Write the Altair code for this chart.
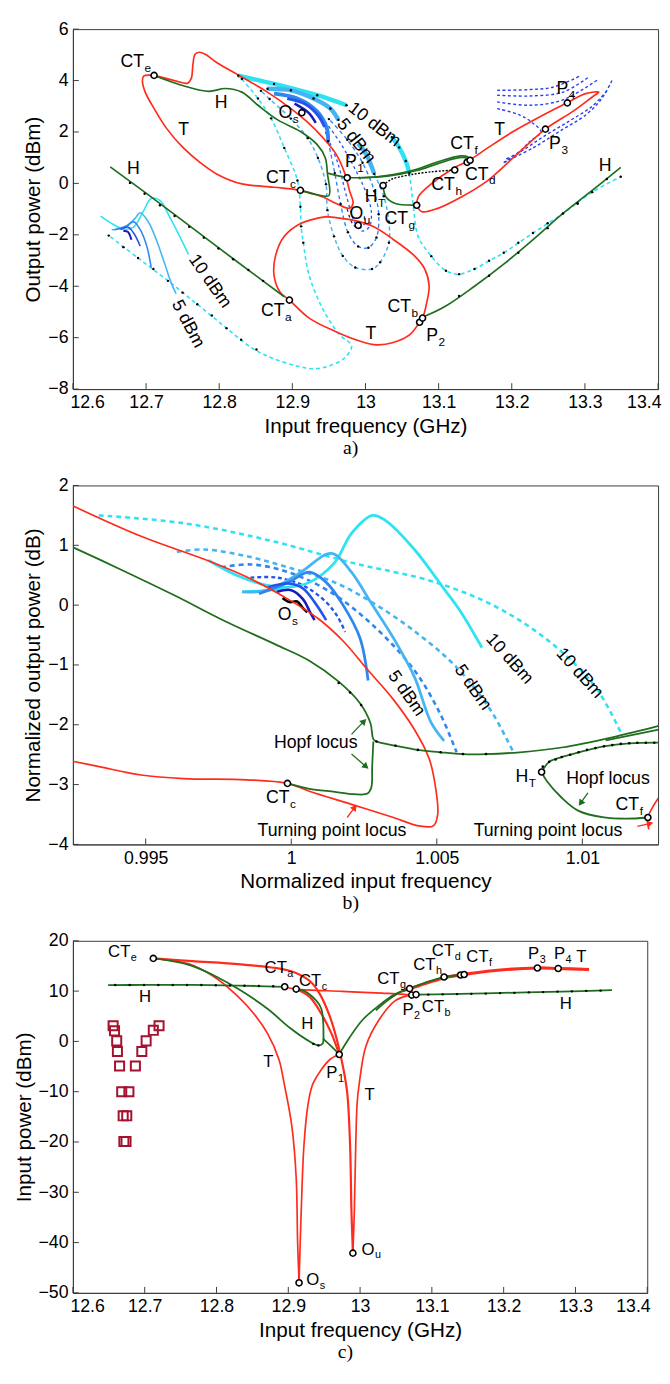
import math
import altair as alt
import pandas as pd

# ---------------- colours / fonts ----------------
RED = "#ff2b1c"
GREEN = "#1e6e1e"
CYAN = "#2de3f3"
LBLUE = "#45b5f2"
MBLUE = "#2f87ee"
DBLUE = "#2455e8"
NAVY = "#1a1ab8"
PBLUE = "#2a3cf0"
SQC = "#a3122e"
AXC = "#3a3a3a"
FONT = "Liberation Sans"
SERIF = "Liberation Serif"

# =============== PANEL A data (input freq GHz, output power dBm) ===============
A_XTICKS = [12.6, 12.7, 12.8, 12.9, 13.0, 13.1, 13.2, 13.3, 13.4]
A_YTICKS = [-8, -6, -4, -2, 0, 2, 4, 6]

RED_A1 = [(12.711, 4.20), (12.740, 3.99), (12.757, 3.90), (12.762, 4.10), (12.764, 4.60), (12.767, 5.02),
          (12.773, 5.10), (12.781, 5.02), (12.797, 4.69), (12.826, 4.22), (12.866, 3.55), (12.898, 2.91),
          (12.920, 2.40), (12.942, 1.77), (12.960, 1.13), (12.972, 0.37), (12.978, -0.27), (12.983, -0.78),
          (12.978, -0.97), (12.960, -0.78), (12.942, -0.53), (12.911, -0.27), (12.875, -0.15), (12.831, -0.02),
          (12.797, 0.36), (12.774, 0.81), (12.751, 1.38), (12.728, 2.14), (12.711, 2.91), (12.699, 3.54),
          (12.695, 3.99), (12.697, 4.18), (12.711, 4.20)]
RED_A2 = [(12.946, -1.29), (12.912, -1.55), (12.889, -2.06), (12.877, -2.82), (12.875, -3.58), (12.883, -4.22),
          (12.896, -4.54), (12.923, -5.24), (12.958, -5.75), (12.992, -6.13), (13.015, -6.28), (13.038, -6.19),
          (13.061, -5.87), (13.074, -5.40), (13.078, -5.24), (13.084, -4.60), (13.087, -3.97), (13.081, -3.33),
          (13.067, -2.82), (13.038, -2.18), (13.010, -1.67), (12.981, -1.42), (12.946, -1.29)]
RED_A3 = [(13.070, -0.85), (13.077, -1.10), (13.099, -0.97), (13.131, -0.53), (13.167, 0.11), (13.202, 1.00),
          (13.246, 2.11), (13.283, 2.79), (13.310, 3.36), (13.319, 3.55), (13.301, 3.49), (13.275, 3.13),
          (13.243, 2.66), (13.202, 2.02), (13.167, 1.38), (13.142, 0.90), (13.122, 0.62), (13.090, -0.02),
          (13.072, -0.53), (13.070, -0.85)]

GREEN_A1 = [(12.651, 0.64), (12.700, -0.38), (12.760, -1.66), (12.820, -2.95), (12.889, -4.41)]
GREEN_A2 = [(13.081, -5.17), (13.108, -4.80), (13.149, -4.00), (13.189, -3.14), (13.229, -2.19),
            (13.270, -1.17), (13.310, -0.27), (13.349, 0.62)]
GREEN_A3 = [(12.711, 4.20), (12.751, 3.80), (12.786, 3.58), (12.808, 3.69), (12.831, 3.55), (12.853, 3.04),
            (12.880, 2.47), (12.911, 2.02), (12.934, 1.51), (12.945, 1.00), (12.948, 0.37), (12.950, -0.47),
            (12.934, -0.44), (12.911, -0.27)]
GREEN_A4 = [(12.948, 0.40), (12.974, 0.24), (13.010, 0.24), (13.040, 0.35), (13.070, 0.55), (13.100, 0.85),
            (13.130, 1.07), (13.140, 1.03), (13.143, 0.90)]
GREEN_A4B = [(12.990, 0.22), (13.030, 0.28), (13.070, 0.50), (13.100, 0.78), (13.128, 1.00), (13.139, 0.98),
             (13.143, 0.90)]
GREEN_A5 = [(13.024, -0.08), (13.028, -0.53), (13.041, -0.78), (13.068, -0.85), (13.070, -0.85)]
BLACK_A = [(13.024, -0.08), (13.035, 0.15), (13.060, 0.33), (13.090, 0.45), (13.122, 0.52)]

CYAN_A_T1 = [(12.826, 4.19), (12.875, 3.87), (12.934, 3.43), (12.974, 3.04)]
CYAN_A_T2 = [(13.036, 1.80), (13.046, 1.40), (13.055, 0.87), (13.060, 0.40)]
CYAN_A_DR = [(13.060, 0.40), (13.063, -0.27), (13.066, -1.04), (13.072, -2.06), (13.090, -2.83), (13.110, -3.40),
             (13.128, -3.53), (13.149, -3.33), (13.169, -3.01), (13.189, -2.70), (13.229, -1.93), (13.270, -1.17),
             (13.310, -0.34), (13.349, 0.26)]
CYAN_A_DL = [(12.831, 4.06), (12.853, 3.30), (12.871, 2.53), (12.889, 1.38), (12.907, 0.11), (12.911, -0.91),
             (12.912, -1.67), (12.915, -2.31), (12.923, -3.58), (12.941, -4.85), (12.964, -5.87), (12.981, -6.32),
             (12.972, -6.77), (12.952, -7.08), (12.929, -7.21), (12.906, -7.10), (12.871, -6.78), (12.844, -6.39),
             (12.810, -5.63), (12.770, -4.70), (12.730, -3.79), (12.689, -2.90), (12.649, -2.03)]
LB_A_T1 = [(12.866, 3.68), (12.898, 3.62), (12.929, 3.30), (12.952, 2.91), (12.963, 2.47)]
LB_A_T2 = [(12.990, 1.55), (13.001, 1.13), (13.012, 0.37)]
LB_A_D = [(13.012, 0.37), (13.025, -0.50), (13.032, -1.50), (13.032, -2.31), (13.020, -3.07), (13.009, -3.33),
          (12.986, -3.27), (12.969, -2.82), (12.957, -2.06), (12.948, -1.04), (12.946, -0.03), (12.935, 0.99),
          (12.921, 1.76), (12.898, 2.52), (12.869, 3.28), (12.857, 3.60)]
MB_A_T = [(12.875, 3.49), (12.907, 3.30), (12.934, 2.79), (12.947, 2.15), (12.949, 1.64)]
MB_A_D = [(12.949, 1.64), (12.958, 0.40), (12.966, -0.80), (12.976, -1.90), (12.990, -2.45), (13.004, -2.50),
          (13.015, -2.10), (13.018, -1.20), (13.012, -0.30), (12.996, 0.80), (12.975, 1.70), (12.950, 2.50)]
DB_A_D = [(12.945, 2.00), (12.962, 0.80), (12.975, -0.60), (12.985, -1.50), (12.995, -1.85), (13.005, -1.70),
          (13.008, -1.10), (13.000, -0.30), (12.985, 0.60), (12.965, 1.60), (12.945, 2.40)]
DB_A_S = [(12.893, 3.30), (12.918, 3.08), (12.935, 2.65), (12.944, 2.20)]
NV_A_S = [(12.903, 3.10), (12.922, 2.75), (12.932, 2.35)]
NV_A_D = [(12.975, -1.00), (12.982, -1.55), (12.990, -1.75), (12.998, -1.60), (12.998, -1.20)]

LL_C = [(12.638, -1.27), (12.656, -1.61), (12.669, -1.78), (12.683, -1.70), (12.696, -1.10), (12.707, -0.59),
        (12.719, -0.66), (12.732, -1.29), (12.745, -2.00), (12.758, -2.76)]
LL_L = [(12.653, -1.80), (12.670, -1.72), (12.685, -1.36), (12.692, -1.14), (12.703, -1.49), (12.714, -2.19),
        (12.725, -3.08), (12.734, -3.84), (12.741, -4.29)]
LL_M = [(12.657, -1.80), (12.674, -1.65), (12.683, -1.49), (12.692, -1.80), (12.701, -2.44), (12.707, -3.27)]
LL_D = [(12.665, -1.80), (12.675, -1.70), (12.683, -1.93), (12.692, -2.44)]
LL_N = [(12.669, -1.85), (12.675, -1.88), (12.680, -2.19)]

TR_1 = [(13.180, 3.62), (13.225, 3.65), (13.256, 3.74), (13.292, 4.16)]
TR_2 = [(13.180, 3.43), (13.225, 3.40), (13.270, 3.55), (13.305, 4.13)]
TR_3 = [(13.180, 3.17), (13.225, 3.04), (13.270, 3.25), (13.319, 4.06)]
TR_4 = [(13.180, 2.91), (13.211, 2.66), (13.229, 2.34), (13.240, 2.00), (13.225, 1.64), (13.211, 1.25), (13.189, 0.81)]
TR_5 = [(13.337, 4.00), (13.323, 3.30), (13.301, 2.66), (13.265, 2.02), (13.229, 1.38), (13.189, 0.81)]
TR_6 = [(13.330, 3.60), (13.310, 3.00), (13.280, 2.45), (13.245, 1.85), (13.210, 1.20), (13.192, 0.95)]

DOTS_A = [(12.678, 0.02), (12.698, -0.40), (12.719, -0.85), (12.739, -1.27), (12.759, -1.69), (12.779, -2.11),
          (12.799, -2.53), (12.819, -2.95), (12.840, -3.37), (12.860, -3.79),
          (12.649, -2.03), (12.669, -2.48), (12.689, -2.90), (12.710, -3.33), (12.730, -3.79), (12.750, -4.25),
          (12.770, -4.70), (12.790, -5.14), (12.810, -5.63), (12.830, -6.08), (12.851, -6.46),
          (13.128, -4.38), (13.169, -3.59), (13.209, -2.70), (13.249, -1.74), (13.290, -0.78), (13.330, 0.17),
          (13.090, -2.83), (13.110, -3.40), (13.128, -3.53), (13.149, -3.33), (13.169, -3.01), (13.189, -2.70),
          (13.209, -2.31), (13.229, -1.93), (13.249, -1.55), (13.270, -1.17), (13.290, -0.78), (13.310, -0.34),
          (13.349, 0.26)]

MK_A = [(12.711, 4.20), (12.913, 2.75), (12.975, 0.22), (12.911, -0.27), (13.024, -0.08), (12.990, -1.63),
        (13.070, -0.85), (13.122, 0.52), (13.139, 0.82), (13.143, 0.90), (13.246, 2.11), (13.276, 3.13),
        (12.896, -4.54), (13.074, -5.40), (13.078, -5.24)]

LBL_A = [("CT", "e", 12.665, 4.71), ("H", "", 12.794, 3.14), ("T", "", 12.744, 2.08), ("O", "s", 12.881, 2.72),
         ("P", "1", 12.972, 0.81), ("H", "", 12.674, 0.55), ("CT", "c", 12.864, 0.21), ("H", "T", 12.999, -0.52),
         ("O", "u", 12.978, -1.19), ("CT", "g", 13.026, -1.40), ("CT", "h", 13.090, -0.05),
         ("CT", "d", 13.136, 0.34), ("CT", "f", 13.116, 1.53), ("T", "", 13.176, 2.08), ("P", "4", 13.261, 3.65),
         ("P", "3", 13.251, 1.53), ("H", "", 13.319, 0.68), ("CT", "a", 12.857, -4.98),
         ("CT", "b", 13.030, -4.83), ("T", "", 13.000, -5.87), ("P", "2", 13.083, -5.94)]
ROT_A = [("10 dBm", 13.012, 2.28, 38), ("5 dBm", 12.987, 1.64, 52), ("10 dBm", 12.787, -3.81, 55),
         ("5 dBm", 12.757, -5.47, 62)]

# =============== PANEL B data (normalized) ===============
B_XTICKS = [0.995, 1.0, 1.005, 1.01]
B_YTICKS = [-4, -3, -2, -1, 0, 1, 2]

RED_B1 = [(0.99249, 1.66), (0.99484, 1.15), (0.99715, 0.74), (0.99860, 0.44), (0.99975, 0.14), (1.00091, -0.22),
          (1.00178, -0.60), (1.00264, -1.09), (1.00351, -1.58), (1.00423, -2.08), (1.00474, -2.57),
          (1.00496, -3.06), (1.00503, -3.50), (1.00488, -3.69), (1.00438, -3.69), (1.00351, -3.55),
          (1.00207, -3.33), (1.00062, -3.11), (0.99987, -2.98), (0.99845, -2.92), (0.99629, -2.90),
          (0.99484, -2.84), (0.99340, -2.70), (0.99249, -2.61)]
RED_B2 = [(1.01262, -3.22), (1.01240, -3.39), (1.01225, -3.55), (1.01228, -3.75)]
GREEN_B1 = [(0.99249, 0.97), (0.99412, 0.60), (0.99600, 0.16), (0.99773, -0.27), (0.99947, -0.66),
            (1.00062, -0.93), (1.00163, -1.28), (1.00236, -1.64), (1.00272, -1.97), (1.00282, -2.24),
            (1.00293, -2.28), (1.00358, -2.35), (1.00435, -2.42), (1.00513, -2.46), (1.00590, -2.49),
            (1.00669, -2.49), (1.00785, -2.46), (1.00929, -2.38), (1.01103, -2.21), (1.01262, -2.02)]
GREEN_B1B = [(1.00282, -2.28), (1.00278, -2.70), (1.00275, -3.05), (1.00262, -3.15), (1.00215, -3.16),
             (1.00150, -3.12), (1.00062, -3.07), (0.99987, -2.98)]
GREEN_B1C = [(1.01080, -2.26), (1.01262, -2.08)]
GREEN_B2 = [(1.00860, -2.79), (1.00886, -2.62), (1.00929, -2.54), (1.00987, -2.46), (1.01074, -2.36),
            (1.01161, -2.31), (1.01262, -2.30)]
GREEN_B3 = [(1.00860, -2.79), (1.00879, -2.95), (1.00929, -3.22), (1.00987, -3.44), (1.01074, -3.55),
            (1.01150, -3.57), (1.01225, -3.55)]
CYAN_B_D = [(0.99339, 1.50), (0.99629, 1.37), (0.99918, 1.09), (1.00207, 0.71), (1.00496, 0.38),
            (1.00712, -0.05), (1.00900, -0.66), (1.01045, -1.37), (1.01132, -2.13)]
CYAN_B_S = [(0.99715, 0.75), (0.99816, 0.49), (0.99918, 0.33), (0.99990, 0.30), (1.00062, 0.38), (1.00149, 0.71),
            (1.00207, 1.20), (1.00279, 1.50), (1.00322, 1.42), (1.00423, 0.93), (1.00525, 0.27),
            (1.00582, -0.11), (1.00655, -0.71)]
CYAN_B_S2 = [(0.99831, 0.22), (0.99904, 0.24), (0.99976, 0.27)]
LB_B_D = [(0.99607, 0.89), (0.99701, 0.93), (0.99845, 0.82), (0.99990, 0.63), (1.00149, 0.38), (1.00293, 0.00),
          (1.00438, -0.49), (1.00568, -1.04), (1.00684, -1.75), (1.00763, -2.46)]
LB_B_S = [(0.99831, 0.22), (0.99918, 0.25), (1.00033, 0.55), (1.00120, 0.85), (1.00149, 0.85), (1.00207, 0.55),
          (1.00279, 0.00), (1.00351, -0.55), (1.00423, -1.20), (1.00481, -1.97), (1.00525, -2.27)]
MB_B_D = [(0.99759, 0.63), (0.99861, 0.68), (0.99990, 0.55), (1.00134, 0.22), (1.00279, -0.33), (1.00423, -1.09),
          (1.00510, -1.80), (1.00568, -2.46)]
MB_B_S = [(0.99889, 0.19), (0.99990, 0.38), (1.00062, 0.55), (1.00120, 0.38), (1.00178, 0.00), (1.00236, -0.55),
          (1.00264, -1.26)]
DB_B_D = [(0.99860, 0.46), (0.99950, 0.46), (1.00040, 0.33), (1.00120, 0.05), (1.00160, -0.20), (1.00185, -0.45)]
DB_B_S = [(0.99920, 0.30), (0.99990, 0.36), (1.00040, 0.28), (1.00080, 0.05), (1.00120, -0.25)]
NV_B = [(0.99950, 0.22), (1.00000, 0.25), (1.00040, 0.10), (1.00065, -0.12), (1.00080, -0.25)]
BK_B = [(0.99970, 0.12), (0.99995, 0.05), (1.00020, 0.06), (1.00040, -0.05), (1.00055, -0.12)]

DOTS_B = [(1.00163, -1.30), (1.00202, -1.46), (1.00240, -1.67), (1.00293, -2.28), (1.00358, -2.35),
          (1.00435, -2.42), (1.00513, -2.46), (1.00590, -2.49), (1.00669, -2.49), (1.00864, -2.70),
          (1.00886, -2.62), (1.00908, -2.58), (1.00929, -2.54), (1.00958, -2.50), (1.00987, -2.46),
          (1.01016, -2.42), (1.01045, -2.39), (1.01074, -2.36), (1.01103, -2.34), (1.01132, -2.32),
          (1.01161, -2.31), (1.01189, -2.30), (1.01218, -2.30), (1.01247, -2.30)]
MK_B = [(0.99987, -2.98), (1.00860, -2.79), (1.01225, -3.55)]
LBL_B = [("O", "s", 0.99954, -0.16), ("CT", "c", 0.99913, -3.22), ("H", "T", 1.00770, -2.87),
         ("CT", "f", 1.01114, -3.34)]
PLAIN_B = [("Hopf locus", 1.00084, -2.30), ("Turning point locus", 1.00140, -3.78),
           ("Hopf locus", 1.01088, -2.90), ("Turning point locus", 1.00882, -3.78)]
ROT_B = [("5 dBm", 1.00395, -1.48, 55), ("5 dBm", 1.00623, -1.38, 55), ("10 dBm", 1.00749, -0.90, 48),
         ("10 dBm", 1.00990, -1.14, 48)]
ARR_B_GREEN = [(1.00207, -2.16, 1.00250, -1.94), (1.00207, -2.49, 1.00257, -2.70), (1.01019, -3.14, 1.00994, -3.31)]
ARR_B_RED = [(1.00192, -3.55, 1.00218, -3.38), (1.01189, -3.70, 1.01233, -3.65)]

# =============== PANEL C data (input freq GHz, input power dBm) ===============
C_XTICKS = [12.6, 12.7, 12.8, 12.9, 13.0, 13.1, 13.2, 13.3, 13.4]
C_YTICKS = [-50, -40, -30, -20, -10, 0, 10, 20]

# turning-point branch from CTe over the top, down the band to Ou
RED_C_TOP = [(12.712, 16.5), (12.766, 15.95), (12.834, 15.3), (12.903, 14.0), (12.930, 12.0), (12.944, 9.4),
             (12.958, 4.9), (12.969, -0.4), (12.976, -4.9), (12.982, -10.1), (12.986, -20.3), (12.988, -33.8),
             (12.990, -42.1)]
# CTa - CTc - P2 nearly flat branch
RED_C_FLAT = [(12.895, 10.86), (12.911, 10.4), (12.975, 9.95), (13.030, 9.6), (13.058, 9.4), (13.072, 9.2)]
# CTc down to P1
RED_C_BAND = [(12.911, 10.4), (12.930, 8.8), (12.946, 5.5), (12.960, 1.6), (12.971, -2.6)]
# branch from CTe down to Os and back up to P1
RED_C_OS1 = [(12.712, 16.5), (12.745, 15.9), (12.766, 15.2), (12.795, 13.0), (12.821, 10.1), (12.848, 6.2),
             (12.871, 1.6), (12.887, -3.6), (12.894, -8.2), (12.905, -16.9), (12.911, -27.1), (12.913, -40.0),
             (12.915, -48.0)]
RED_C_OS2 = [(12.915, -48.0), (12.918, -33.8), (12.922, -20.3), (12.928, -12.1), (12.935, -8.2), (12.958, -3.6),
             (12.971, -2.6)]
# right branch from Ou up to P2
RED_C_OU2 = [(12.990, -42.1), (12.992, -33.8), (12.994, -20.3), (12.996, -12.1), (12.999, -8.2), (13.008, -1.0),
             (13.026, 4.2), (13.049, 8.1), (13.067, 9.1), (13.072, 9.2)]
RED_C_RIGHT = [(13.058, 10.0), (13.069, 10.5), (13.122, 12.8), (13.144, 13.3), (13.181, 14.0), (13.247, 14.6),
               (13.276, 14.5), (13.319, 14.3)]
GREEN_C1 = [(12.649, 11.2), (12.700, 11.22), (12.766, 11.25), (12.830, 11.1), (12.895, 10.86)]
GREEN_C2 = [(13.078, 9.3), (13.122, 9.4), (13.200, 9.65), (13.280, 9.9), (13.351, 10.2)]
GREEN_C3 = [(12.712, 16.5), (12.740, 15.9), (12.766, 15.0), (12.802, 12.7), (12.834, 10.1), (12.871, 6.5),
            (12.903, 2.6), (12.926, 0.3), (12.942, -0.8), (12.948, -0.4), (12.949, 1.6), (12.948, 4.9),
            (12.946, 6.5), (12.939, 8.1), (12.921, 10.1), (12.911, 10.4)]
GREEN_C4 = [(12.971, -2.6), (12.980, -0.4), (13.003, 4.2), (13.026, 7.1), (13.049, 9.4), (13.069, 10.5),
            (13.095, 11.9), (13.117, 12.8), (13.140, 13.2)]
GREEN_C5 = [(13.022, 6.2), (13.040, 8.3), (13.058, 10.0)]
GREEN_C6 = [(12.948, 0.6), (12.960, -1.0), (12.971, -2.6)]
DOTS_C = [(12.659, 11.2), (12.679, 11.2), (12.699, 11.2), (12.719, 11.2), (12.739, 11.2), (12.759, 11.2),
          (12.779, 11.2), (12.799, 11.15), (12.819, 11.1), (12.839, 11.05), (12.859, 11.0), (12.879, 10.95),
          (12.935, -0.5), (12.942, -0.8),
          (13.095, 9.3), (13.115, 9.35), (13.135, 9.4), (13.155, 9.45), (13.175, 9.5), (13.195, 9.6),
          (13.215, 9.65), (13.235, 9.75), (13.255, 9.8), (13.275, 9.9), (13.295, 9.95), (13.315, 10.05),
          (13.335, 10.1)]
SQ_C = [(12.656, 3.1), (12.658, 2.1), (12.661, 0.1), (12.662, -2.0), (12.665, -4.9), (12.668, -10.0),
        (12.678, -10.0), (12.670, -14.8), (12.675, -14.8), (12.671, -19.9), (12.674, -19.9), (12.687, -4.9),
        (12.696, -2.0), (12.702, 0.1), (12.712, 2.2), (12.720, 3.1)]
MK_C = [(12.712, 16.5), (12.895, 10.86), (12.911, 10.4), (12.971, -2.6), (12.915, -48.0), (12.990, -42.1),
        (13.069, 10.5), (13.117, 12.8), (13.140, 13.2), (13.145, 13.3), (13.072, 9.2), (13.078, 9.3),
        (13.247, 14.6), (13.276, 14.5)]
LBL_C = [("CT", "e", 12.649, 17.7), ("H", "", 12.692, 8.9), ("CT", "a", 12.867, 14.6), ("CT", "c", 12.915, 11.9),
         ("H", "", 12.918, 3.5), ("T", "", 12.865, -4.1), ("P", "1", 12.953, -6.4), ("T", "", 13.006, -10.6),
         ("O", "u", 13.002, -41.4), ("O", "s", 12.925, -47.5), ("CT", "g", 13.024, 12.3),
         ("CT", "h", 13.074, 15.2), ("CT", "d", 13.100, 18.0), ("CT", "f", 13.148, 16.7), ("P", "3", 13.234, 17.3),
         ("P", "4", 13.270, 17.3), ("T", "", 13.301, 16.7), ("P", "2", 13.059, 6.2), ("CT", "b", 13.086, 6.8),
         ("H", "", 13.278, 7.5)]

# ---------------- helpers ----------------
CW = {"C": 0.722, "T": 0.611, "P": 0.667, "O": 0.778, "H": 0.722}


def curves_df(curves):
    rows = []
    for name, pts in curves.items():
        for i, (x, y) in enumerate(pts):
            rows.append({"id": name, "i": i, "x": x, "y": y})
    return pd.DataFrame(rows)


class Panel:
    def __init__(self, w, h, xdom, ydom, xticks, yticks, xtitle, ytitle, tag):
        self.w, self.h = w, h
        self.xdom, self.ydom = xdom, ydom
        self.xticks, self.yticks = xticks, yticks
        self.xtitle, self.ytitle, self.tag = xtitle, ytitle, tag
        self.layers = []

    def X(self, f="x"):
        return alt.X(f"{f}:Q", scale=alt.Scale(domain=self.xdom, nice=False, zero=False),
                     axis=alt.Axis(values=self.xticks, format="~g", ticks=False, grid=False, labelPadding=5,
                                   titlePadding=4, labelFlush=True, labelFlushOffset=3, labelOverlap=False),
                     title=self.xtitle)

    def Y(self, f="y"):
        return alt.Y(f"{f}:Q", scale=alt.Scale(domain=self.ydom, nice=False, zero=False),
                     axis=alt.Axis(values=self.yticks, format="d", ticks=False, grid=False, labelPadding=5,
                                   titlePadding=4, labelFlush=False, labelOverlap=False),
                     title=self.ytitle)

    def lines(self, curves, color, width, dash=None, interp="catmull-rom"):
        mk = dict(color=color, strokeWidth=width, clip=True, interpolate=interp)
        if dash:
            mk["strokeDash"] = dash
        self.layers.append(alt.Chart(curves_df(curves)).mark_line(**mk).encode(
            x=self.X(), y=self.Y(), detail="id:N", order="i:Q"))

    def dots(self, pts, size=6, color="black"):
        df = pd.DataFrame(pts, columns=["x", "y"])
        self.layers.append(alt.Chart(df).mark_circle(size=size, color=color, opacity=1, clip=True).encode(
            x=self.X(), y=self.Y()))

    def markers(self, pts, size=38):
        df = pd.DataFrame(pts, columns=["x", "y"])
        self.layers.append(alt.Chart(df).mark_point(shape="circle", filled=True, fill="white", stroke="black",
                                                    strokeWidth=1.6, size=size, opacity=1).encode(
            x=self.X(), y=self.Y()))

    def squares(self, pts, color, size=85):
        df = pd.DataFrame(pts, columns=["x", "y"])
        self.layers.append(alt.Chart(df).mark_point(shape="square", filled=False, color=color,
                                                    strokeWidth=2, size=size, opacity=1).encode(
            x=self.X(), y=self.Y()))

    def labels(self, items, size=18, sub_size=12):
        df = pd.DataFrame(items, columns=["t", "s", "x", "y"])
        self.layers.append(alt.Chart(df).mark_text(align="left", baseline="middle", fontSize=size, font=FONT,
                                                   color="black").encode(x=self.X(), y=self.Y(), text="t:N"))
        for m in df["t"].unique():
            sub = df[(df["t"] == m) & (df["s"] != "")]
            if len(sub) == 0:
                continue
            dx = sum(CW[c] for c in m) * size + 0.5
            self.layers.append(alt.Chart(sub).mark_text(align="left", baseline="middle", fontSize=sub_size,
                                                        font=FONT, color="black", dx=dx, dy=6).encode(
                x=self.X(), y=self.Y(), text="s:N"))

    def plain(self, items, size=18):
        df = pd.DataFrame(items, columns=["t", "x", "y"])
        self.layers.append(alt.Chart(df).mark_text(align="center", baseline="middle", fontSize=size, font=FONT,
                                                   color="black").encode(x=self.X(), y=self.Y(), text="t:N"))

    def rotated(self, items, size=18):
        df = pd.DataFrame(items, columns=["t", "x", "y", "a"])
        self.layers.append(alt.Chart(df).mark_text(align="center", baseline="middle", fontSize=size, font=FONT,
                                                   color="black").encode(
            x=self.X(), y=self.Y(), text="t:N", angle=alt.Angle("a:Q", scale=None)))

    def arrows(self, items, color):
        df = pd.DataFrame(items, columns=["x", "y", "x2", "y2"])
        sx = self.w / (self.xdom[1] - self.xdom[0])
        sy = self.h / (self.ydom[1] - self.ydom[0])
        df["a"] = [math.degrees(math.atan2((r.x2 - r.x) * sx, (r.y2 - r.y) * sy)) % 360 for r in df.itertuples()]
        self.layers.append(alt.Chart(df).mark_rule(color=color, strokeWidth=1.3).encode(
            x=self.X(), y=self.Y(), x2="x2:Q", y2="y2:Q"))
        self.layers.append(alt.Chart(df).mark_point(shape="triangle-up", filled=True, color=color, size=55,
                                                    opacity=1).encode(
            x=self.X("x2"), y=self.Y("y2"), angle=alt.Angle("a:Q", scale=None)))

    def ticks(self):
        xt = pd.DataFrame({"x": self.xticks})
        yt = pd.DataFrame({"y": self.yticks})
        self.layers.insert(0, alt.Chart(xt).mark_rule(color=AXC, strokeWidth=1).encode(
            x=self.X(), y=alt.value(self.h), y2=alt.value(self.h - 6)))
        self.layers.insert(0, alt.Chart(yt).mark_rule(color=AXC, strokeWidth=1).encode(
            y=self.Y(), x=alt.value(0), x2=alt.value(6)))

    def chart(self, tag_dx=0):
        self.ticks()
        return alt.layer(*self.layers).properties(
            width=self.w, height=self.h,
            title=alt.TitleParams(self.tag, orient="bottom", font=SERIF, fontSize=20, fontWeight="normal",
                                  offset=2, dx=tag_dx, color="black"))


# ---------------- panel a ----------------
pa = Panel(595, 366, [12.6, 13.4], [-8, 6], A_XTICKS, A_YTICKS, "Input frequency (GHz)", "Output power (dBm)", "a)")
pa.lines({"l": CYAN_A_DL, "r": CYAN_A_DR}, CYAN, 1.6, [4, 3])
pa.lines({"u": LB_A_D}, LBLUE, 1.5, [4, 3])
pa.lines({"u": MB_A_D}, MBLUE, 1.4, [4, 3])
pa.lines({"u": DB_A_D}, DBLUE, 1.3, [3, 3])
pa.lines({"u": NV_A_D}, NAVY, 1.3, [3, 3])
pa.lines({"1": TR_1, "2": TR_2, "3": TR_3, "4": TR_4, "5": TR_5, "6": TR_6}, PBLUE, 1.4, [3, 2.5])
pa.lines({"1": CYAN_A_T1, "2": CYAN_A_T2}, CYAN, 4.5)
pa.lines({"1": LB_A_T1, "2": LB_A_T2}, LBLUE, 4.5)
pa.lines({"1": MB_A_T}, MBLUE, 4)
pa.lines({"1": DB_A_S}, DBLUE, 3)
pa.lines({"1": NV_A_S}, NAVY, 2.5)
pa.lines({"c": LL_C}, CYAN, 1.6)
pa.lines({"l": LL_L}, LBLUE, 1.6)
pa.lines({"m": LL_M}, MBLUE, 1.6)
pa.lines({"d": LL_D}, DBLUE, 1.6)
pa.lines({"n": LL_N}, NAVY, 2)
pa.lines({"1": RED_A1, "2": RED_A2, "3": RED_A3}, RED, 1.7)
pa.lines({"1": GREEN_A1, "2": GREEN_A2, "3": GREEN_A3, "4": GREEN_A4, "4b": GREEN_A4B, "5": GREEN_A5}, GREEN, 1.7)
pa.lines({"1": BLACK_A}, "black", 1.4, [2, 1.5])
pa.dots(DOTS_A)
pa.dots(CYAN_A_T1 + CYAN_A_T2 + LB_A_T1 + LB_A_D + MB_A_D + CYAN_A_DL[:8])
pa.markers(MK_A)
pa.labels(LBL_A)
pa.rotated(ROT_A)
chart_a = pa.chart(tag_dx=-15)

# ---------------- panel b ----------------
pb = Panel(595, 365, [0.9925, 1.0126], [-4, 2], B_XTICKS, B_YTICKS, "Normalized input frequency",
           "Normalized output power (dB)", "b)")
pb.lines({"d": CYAN_B_D}, CYAN, 2.6, [5, 4])
pb.lines({"d": LB_B_D}, LBLUE, 2.6, [5, 4])
pb.lines({"d": MB_B_D}, MBLUE, 2.6, [5, 4])
pb.lines({"d": DB_B_D}, DBLUE, 2.4, [4, 3])
pb.lines({"s": CYAN_B_S, "s2": CYAN_B_S2}, CYAN, 2.8)
pb.lines({"s": LB_B_S}, LBLUE, 2.8)
pb.lines({"s": MB_B_S}, MBLUE, 2.8)
pb.lines({"s": DB_B_S}, DBLUE, 2.6)
pb.lines({"s": NV_B}, NAVY, 2.6)
pb.lines({"s": BK_B}, "black", 2.6)
pb.lines({"1": RED_B1, "2": RED_B2}, RED, 1.7)
pb.lines({"1": GREEN_B1, "1b": GREEN_B1B, "1c": GREEN_B1C, "2": GREEN_B2, "3": GREEN_B3}, GREEN, 1.8)
pb.dots(DOTS_B, size=7)
pb.arrows(ARR_B_GREEN, GREEN)
pb.arrows(ARR_B_RED, RED)
pb.markers(MK_B)
pb.labels(LBL_B)
pb.plain(PLAIN_B)
pb.rotated(ROT_B)
chart_b = pb.chart(tag_dx=-15)

# ---------------- panel c ----------------
pc = Panel(584, 358, [12.6, 13.4], [-50, 20], C_XTICKS, C_YTICKS, "Input frequency (GHz)", "Input power (dBm)", "c)")
pc.lines({"os1": RED_C_OS1, "os2": RED_C_OS2, "ou2": RED_C_OU2, "flat": RED_C_FLAT}, RED, 1.7)
pc.lines({"top": RED_C_TOP, "band": RED_C_BAND}, RED, 2.2)
pc.lines({"right": RED_C_RIGHT}, RED, 3.2)
pc.lines({"1": GREEN_C1, "2": GREEN_C2, "3": GREEN_C3, "4": GREEN_C4, "5": GREEN_C5, "6": GREEN_C6}, GREEN, 1.8)
pc.dots(DOTS_C, size=6)
pc.squares(SQ_C, SQC)
pc.markers(MK_C)
pc.labels(LBL_C, size=17, sub_size=11)
chart_c = pc.chart(tag_dx=-15)

chart = alt.concat(chart_a, chart_b, chart_c, columns=1, spacing=17, align="none").properties(
    padding={"left": 4, "top": 0, "right": 0, "bottom": 0}
).configure_view(stroke=AXC, strokeWidth=1).configure_axis(
    domainColor=AXC, domainWidth=1, labelFont=FONT, labelFontSize=18, labelColor="black",
    titleFont=FONT, titleFontSize=21, titleFontWeight="normal", titleColor="black"
)

chart.save("out.html", embed_options={"renderer": "svg", "actions": False})
